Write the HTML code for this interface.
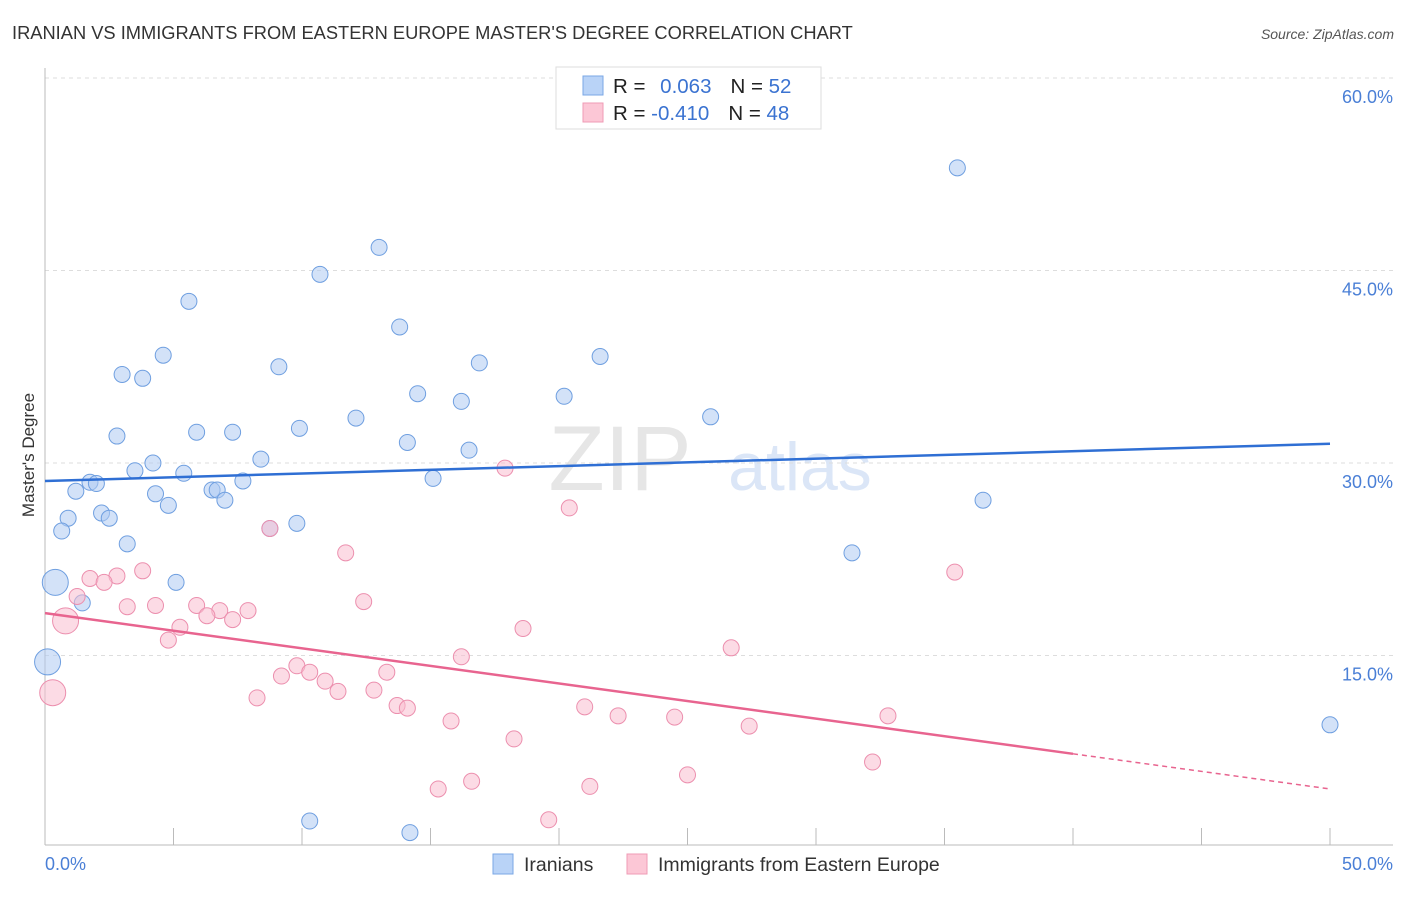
<!DOCTYPE html>
<html><head><meta charset="utf-8"><style>
body{margin:0;background:#fff;font-family:"Liberation Sans",sans-serif;}
svg text{font-family:"Liberation Sans",sans-serif;}
</style></head><body>
<svg id="c" width="1406" height="892">
<text x="12" y="39" font-size="18.3" fill="#333">IRANIAN VS IMMIGRANTS FROM EASTERN EUROPE MASTER'S DEGREE CORRELATION CHART</text>
<text x="1394" y="39" font-size="14" font-style="italic" fill="#555" text-anchor="end">Source: ZipAtlas.com</text>
<text x="620" y="490" font-size="92" fill="#e6e6e6" font-family="Liberation Serif" text-anchor="middle">ZIP</text>
<text x="800" y="490" font-size="68" fill="#dbe6f7" text-anchor="middle">atlas</text>
<text transform="translate(34,455) rotate(-90)" font-size="17" fill="#333" text-anchor="middle">Master's Degree</text>
<g id="grid"></g><g id="marks"></g>
<g>
<rect x="556" y="67" width="265" height="62" fill="#fff" stroke="#ddd"/>
<rect x="583" y="76" width="20" height="19" fill="#b9d3f7" stroke="#7aa7e6"/>
<rect x="583" y="103" width="20" height="19" fill="#fcc7d6" stroke="#ef9bb5"/>
<text x="613" y="93" font-size="20.5" fill="#222">R = <tspan fill="#3b73d1" dx="9">0.063</tspan><tspan fill="#222" dx="19">N = </tspan><tspan fill="#3b73d1">52</tspan></text>
<text x="613" y="120" font-size="20.5" fill="#222">R = <tspan fill="#3b73d1">-0.410</tspan><tspan fill="#222" dx="19">N = </tspan><tspan fill="#3b73d1">48</tspan></text>
</g>
<g>
<rect x="493" y="854" width="20" height="20" fill="#b9d3f7" stroke="#7aa7e6"/>
<text x="524" y="871" font-size="19.5" fill="#333">Iranians</text>
<rect x="627" y="854" width="20" height="20" fill="#fcc7d6" stroke="#ef9bb5"/>
<text x="658" y="871" font-size="19.5" fill="#333">Immigrants from Eastern Europe</text>
</g>
</svg>
<script>
const blueX=[35.5,13.0,10.7,5.6,13.8,4.6,21.6,9.1,16.9,3.0,3.8,14.5,20.2,16.2,12.1,25.9,5.9,7.3,9.9,2.8,14.1,16.5,4.2,8.4,3.5,5.4,1.75,2.0,15.1,7.7,1.2,4.3,6.5,6.7,4.8,7.0,36.5,2.2,2.5,0.9,9.8,8.75,0.65,3.2,31.4,0.4,5.1,1.45,0.1,50,10.3,14.2];
const blueY=[53.0,46.8,44.7,42.6,40.6,38.4,38.3,37.5,37.8,36.9,36.6,35.4,35.2,34.8,33.5,33.6,32.4,32.4,32.7,32.1,31.6,31.0,30.0,30.3,29.4,29.2,28.5,28.4,28.8,28.6,27.8,27.6,27.9,27.9,26.7,27.1,27.1,26.1,25.7,25.7,25.3,24.9,24.7,23.7,23.0,20.7,20.7,19.1,14.5,9.6,2.1,1.2];
const blueBig=[45,48];
const pinkX=[17.9,20.4,11.7,3.8,35.4,1.75,2.8,2.3,1.25,3.2,4.3,5.9,6.8,7.9,6.3,12.4,7.3,0.8,5.25,18.6,4.8,26.7,16.2,9.8,10.3,9.2,13.3,10.9,11.4,12.8,8.25,13.7,14.1,21.0,22.3,24.5,32.8,15.8,27.4,18.25,25.0,16.6,15.3,21.2,32.2,19.6,0.3,8.75];
const pinkY=[29.6,26.5,23.0,21.6,21.5,21.0,21.2,20.7,19.6,18.8,18.9,18.9,18.5,18.5,18.1,19.2,17.8,17.7,17.2,17.1,16.2,15.6,14.9,14.2,13.7,13.4,13.7,13.0,12.2,12.3,11.7,11.1,10.9,11.0,10.3,10.2,10.3,9.9,9.5,8.5,5.7,5.2,4.6,4.8,6.7,2.2,12.1,24.9];
const pinkBig=[17,46];
const blueTrend=[28.6,31.5];
const pinkTrend=[18.3,4.6];
const pinkSolidEnd=40;
const yTicks=[15,30,45,60];
const yTickLabels=["15.0%","30.0%","45.0%","60.0%"];

const NS="http://www.w3.org/2000/svg";
const sx=v=>45+v*25.7, sy=v=>848-v*12.833;
function mk(t,a,p){const e=document.createElementNS(NS,t);for(const k in a)e.setAttribute(k,a[k]);p.appendChild(e);return e;}
const g=document.getElementById('grid'), m=document.getElementById('marks');
yTicks.forEach((t,i)=>{
 const l=mk('line',{x1:45,x2:1393,y1:sy(t),y2:sy(t),stroke:'#ddd','stroke-dasharray':'4,4'},g);
 
 
 const tx=mk('text',{x:1393,y:sy(t)+25,'font-size':18,fill:'#4a7fd6','text-anchor':'end'},g);
 tx.textContent=yTickLabels[i];
 
 
});
const ya=mk('line',{x1:45,x2:45,y1:68,y2:845,stroke:'#bbb'},g);


const xa=mk('line',{x1:45,x2:1393,y1:845,y2:845,stroke:'#bbb'},g);


for(let v=5;v<=50;v+=5){const t=mk('line',{x1:sx(v),x2:sx(v),y1:828,y2:845,stroke:'#bbb'},g);
 
 }
[["0.0%",45,'start'],["50.0%",1393,'end']].forEach(a=>{const t=mk('text',{x:a[1],y:870,'font-size':18,fill:'#4a7fd6','text-anchor':a[2]},g);t.textContent=a[0];
 
 });
function pts(X,Y,big,fill,stroke,name){X.forEach((x,i)=>{const c=mk('circle',{cx:sx(x),cy:sy(Y[i]),r:big.includes(i)?13:8,fill:fill,stroke:stroke,'stroke-width':1,'fill-opacity':0.55},m);
 
 });}
pts(blueX,blueY,blueBig,'#aecbf3','#6f9fe0','iranians-point');
pts(pinkX,pinkY,pinkBig,'#f9bdd0','#ec8fae','eastern-europe-point');
const bt=mk('line',{x1:sx(0),y1:sy(blueTrend[0]),x2:sx(50),y2:sy(blueTrend[1]),stroke:'#2f6fd4','stroke-width':2.5},m);


const pe=pinkTrend[0]+(pinkTrend[1]-pinkTrend[0])*pinkSolidEnd/50;
const pt=mk('line',{x1:sx(0),y1:sy(pinkTrend[0]),x2:sx(pinkSolidEnd),y2:sy(pe),stroke:'#e8648f','stroke-width':2.5},m);


const pd=mk('line',{x1:sx(pinkSolidEnd),y1:sy(pe),x2:sx(50),y2:sy(pinkTrend[1]),stroke:'#e8648f','stroke-width':1.5,'stroke-dasharray':'5,4'},m);


</script>
</body></html>
